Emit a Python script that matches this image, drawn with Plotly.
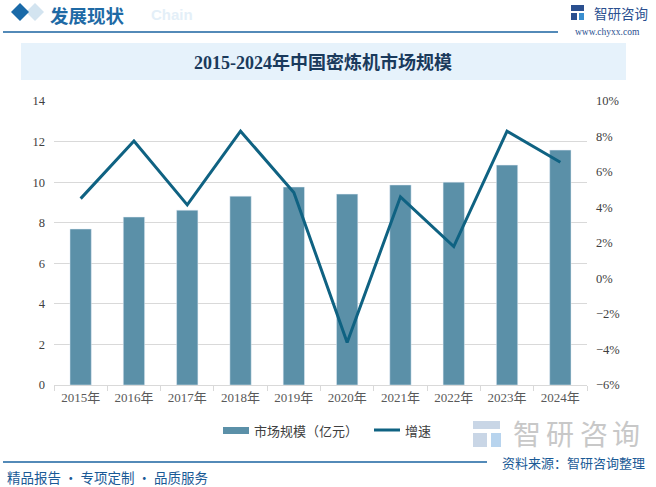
import plotly.graph_objects as go

years = ["2015年", "2016年", "2017年", "2018年", "2019年", "2020年", "2021年", "2022年", "2023年", "2024年"]
market_size = [7.69, 8.28, 8.62, 9.31, 9.76, 9.41, 9.86, 10.0, 10.84, 11.58]
growth = [4.5, 7.75, 4.15, 8.3, 4.85, -3.6, 4.6, 1.8, 8.3, 6.55]

W, H = 656, 487
L, R, T, B = 54, 587, 101, 385

def px(x):
    return (x - L) / (R - L)

def py(y):
    return (B - y) / (B - T)

BAR = "#5b90a8"
LINE = "#0f6282"
SERIF = "Liberation Serif, Noto Sans CJK SC, serif"
SANS = "Noto Sans CJK SC, sans-serif"

fig = go.Figure()
fig.add_trace(go.Bar(x=years, y=market_size, marker_color=BAR, width=0.4,
                     name="市场规模（亿元）", yaxis="y"))
fig.add_trace(go.Scatter(x=years, y=growth, mode="lines", line=dict(color=LINE, width=3),
                         name="增速", yaxis="y2"))

shapes = []
annotations = []

def rect(x0, y0, x1, y1, color, layer="below", line=None):
    shapes.append(dict(type="rect", xref="paper", yref="paper",
                       x0=px(x0), x1=px(x1), y0=py(y1), y1=py(y0),
                       fillcolor=color, line=dict(width=0) if line is None else line,
                       layer=layer))

def hline(x0, x1, y, color, width=1.5):
    shapes.append(dict(type="line", xref="paper", yref="paper",
                       x0=px(x0), x1=px(x1), y0=py(y), y1=py(y),
                       line=dict(color=color, width=width)))

def text(x, y, s, size, color, family=SANS, xanchor="left", bold=False):
    if bold:
        s = "<b>" + s + "</b>"
    annotations.append(dict(xref="paper", yref="paper", x=px(x), y=py(y), text=s,
                            showarrow=False, xanchor=xanchor, yanchor="middle",
                            font=dict(size=size, color=color, family=family)))

def diamond(cx, cy, r, color):
    pts = [(cx, cy - r), (cx + r, cy), (cx, cy + r), (cx - r, cy)]
    path = "M " + " L ".join(f"{px(a)},{py(b)}" for a, b in pts) + " Z"
    shapes.append(dict(type="path", xref="paper", yref="paper", path=path,
                       fillcolor=color, line=dict(width=0), layer="above"))

# header
diamond(35, 12, 9, "#d3e4f0")
diamond(20, 12, 9, "#1a6aa8")
text(149, 15, "Chain", 15, "#e4eff8", family="Liberation Sans, sans-serif", bold=True)
text(48, 15, "发展现状", 18.5, "#1e6aa5", bold=True)
hline(3, 558, 32, "#1a63a0", 1.5)
# header logo
rect(571, 5, 584, 11, "#2a4f8f", layer="above")
rect(571, 13, 577, 20, "#2a4f8f", layer="above")
rect(579, 13, 584, 20, "#3a8fd0", layer="above")
text(592, 13, "智研咨询", 13.5, "#2a4f8f")
text(607, 32, "www.chyxx.com", 9.5, "#2a4f8f", family=SERIF, xanchor="center")

# title band
rect(21, 43, 626, 80, "#e6f2fb")
text(323, 63, "2015-2024年中国密炼机市场规模", 18, "#1a3a5c", family=SERIF, xanchor="center", bold=True)

# legend
rect(223, 427, 249, 434, BAR, layer="above")
text(252, 430, "市场规模（亿元）", 13, "#404040")
hline(374, 400, 430, LINE, 3)
text(403, 430, "增速", 13, "#404040")

# bottom watermark logo
rect(473, 421, 500, 429, "#c9d6e6", layer="above")
rect(473, 433, 487, 447, "#c9d6e6", layer="above")
rect(491, 433, 501, 447, "#b8d4ee", layer="above")
for cx, ch in zip([527, 560, 594, 626], "智研咨询"):
    text(cx, 433, ch, 28, "#c8c8c8", xanchor="center")

# footer
hline(3, 487, 462, "#1a63a0", 1.5)
text(647, 462, "资料来源：智研咨询整理", 13, "#1a5a96", xanchor="right")
text(5, 477, "精品报告 · 专项定制 · 品质服务", 13.5, "#1a5a96")

fig.update_layout(
    width=W, height=H,
    margin=dict(l=L, r=W - R, t=T, b=H - B, pad=0),
    paper_bgcolor="white", plot_bgcolor="white",
    showlegend=False,
    bargap=0.6,
    shapes=shapes, annotations=annotations,
    xaxis=dict(type="category", showline=True, linecolor="#d9d9d9", linewidth=1,
               ticks="outside", tickson="boundaries", ticklen=5, tickcolor="#d9d9d9",
               tickfont=dict(family=SERIF, size=13, color="#595959"), showgrid=False,
               fixedrange=True),
    yaxis=dict(range=[0, 14], dtick=2, showgrid=True, gridcolor="#d9d9d9", gridwidth=1,
               zeroline=False, showline=False, ticks="",
               tickfont=dict(family=SERIF, size=12.5, color="#404040"), ticklabelstandoff=8),
    yaxis2=dict(range=[-6, 10], dtick=2, overlaying="y", side="right", showgrid=False,
                zeroline=False, showline=False, ticksuffix="%",
                tickfont=dict(family=SERIF, size=12.5, color="#404040"), ticklabelstandoff=8),
)

fig.write_html("out.html")
